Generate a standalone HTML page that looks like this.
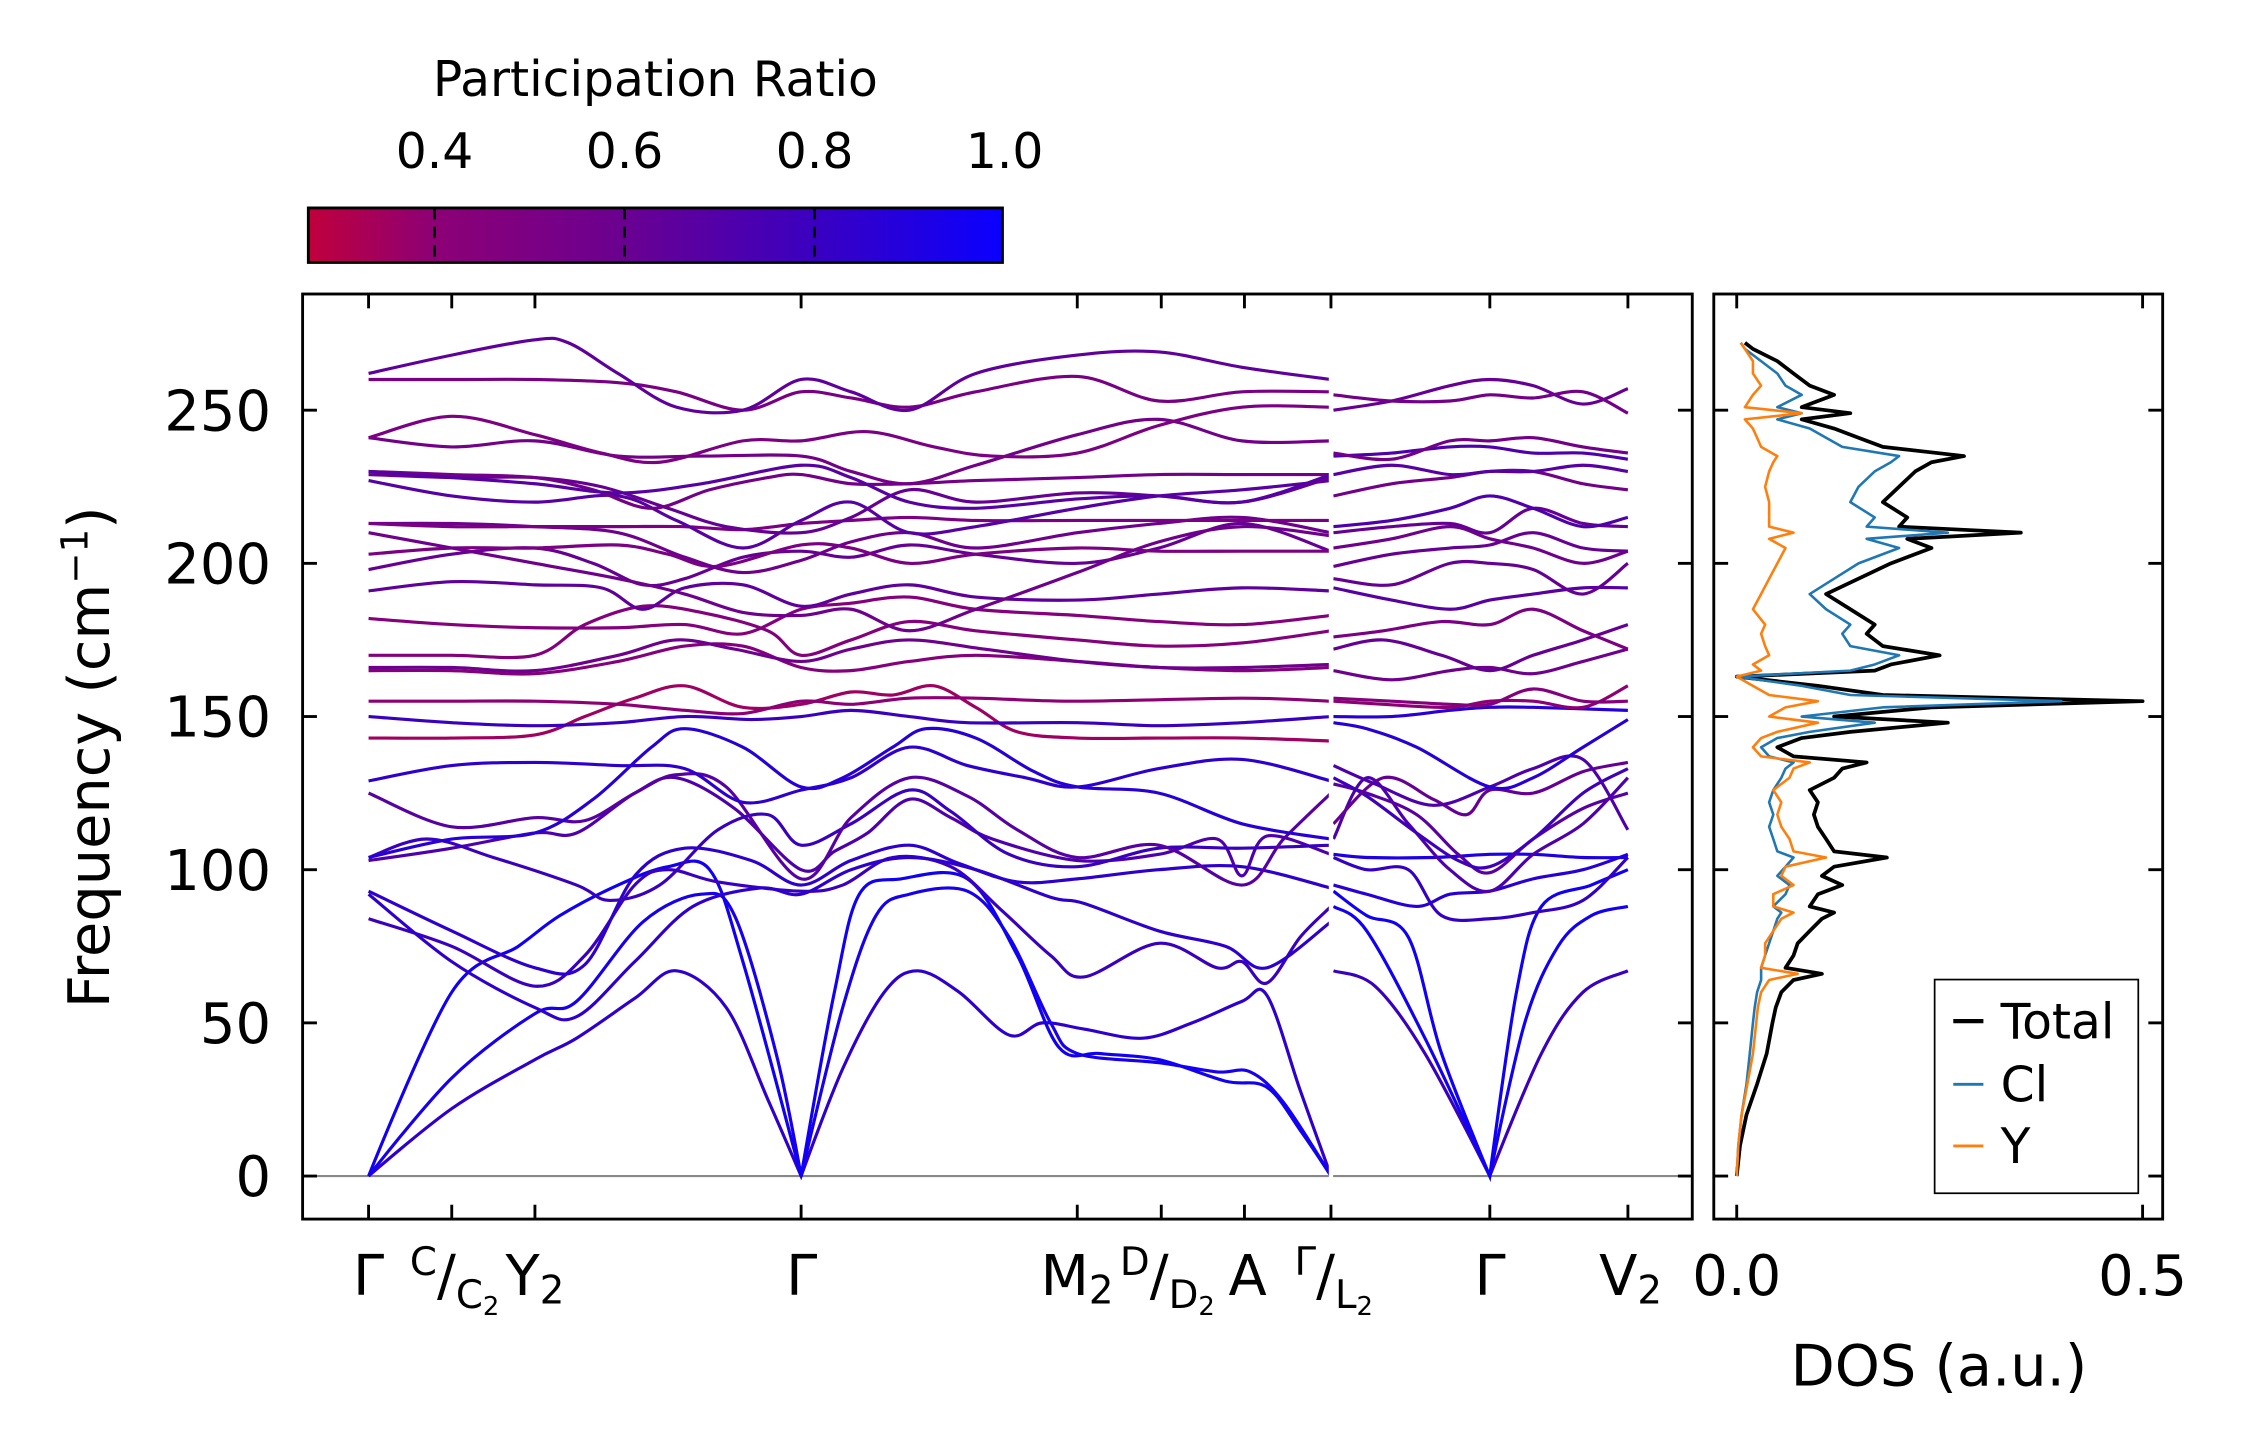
<!DOCTYPE html>
<html><head><meta charset="utf-8"><title>Phonon bands and DOS</title>
<style>
html,body{margin:0;padding:0;background:#fff;}
svg{display:block;}
text{font-family:"DejaVu Sans","Liberation Sans",sans-serif;fill:#000;}
</style></head>
<body>
<svg id="fig" xmlns="http://www.w3.org/2000/svg" width="2248" height="1455" viewBox="0 0 1567.5 1014.5" preserveAspectRatio="none">
  <defs>
    <linearGradient id="cmap" x1="0" x2="1" y1="0" y2="0">
      <stop offset="0" stop-color="#c0003c"/>
      <stop offset="0.18" stop-color="#8d0075"/>
      <stop offset="0.45" stop-color="#6b0090"/>
      <stop offset="0.73" stop-color="#3a00c0"/>
      <stop offset="1" stop-color="#0a00ff"/>
    </linearGradient>
    <clipPath id="mainClip"><rect x="211" y="205" width="969" height="645"/></clipPath>
    <clipPath id="dosClip"><rect x="1195" y="205" width="313" height="645"/></clipPath>
  </defs>
  <g>
    <text x="457" y="67" font-size="34" text-anchor="middle">Participation Ratio</text>
    <rect x="215" y="145" width="484" height="38" fill="url(#cmap)" stroke="#000" stroke-width="2"/>
    <g id="cbTicks"></g>
  </g>
  <g>
    <line x1="211" x2="1180" y1="820" y2="820" stroke="#888" stroke-width="1.5"/>
    <g id="bands" clip-path="url(#mainClip)"></g>
    <rect x="211" y="205" width="969" height="645" fill="none" stroke="#000" stroke-width="2"/>
    <g id="mainTicks"></g>
    <text transform="translate(76,528) rotate(-90)" font-size="40" text-anchor="middle">Frequency (cm<tspan dy="-15" font-size="26">−1</tspan><tspan dy="15">)</tspan></text>
    <g id="kLabels" font-size="39">
      <text x="257" y="903" text-anchor="middle">Γ</text>
      <text x="317" y="903" text-anchor="middle"><tspan font-size="27" dy="-14">C</tspan><tspan dy="14">/</tspan><tspan font-size="27" dy="9">C</tspan><tspan font-size="18" dy="5">2</tspan></text>
      <text x="373" y="903" text-anchor="middle">Y<tspan font-size="27" dy="6">2</tspan></text>
      <text x="559" y="903" text-anchor="middle">Γ</text>
      <text x="751" y="903" text-anchor="middle">M<tspan font-size="27" dy="6">2</tspan></text>
      <text x="814" y="903" text-anchor="middle"><tspan font-size="27" dy="-14">D</tspan><tspan dy="14">/</tspan><tspan font-size="27" dy="9">D</tspan><tspan font-size="18" dy="5">2</tspan></text>
      <text x="870" y="903" text-anchor="middle">A</text>
      <text x="930" y="903" text-anchor="middle"><tspan font-size="27" dy="-14">Γ</tspan><tspan dy="14">/</tspan><tspan font-size="27" dy="9">L</tspan><tspan font-size="18" dy="5">2</tspan></text>
      <text x="1039" y="903" text-anchor="middle">Γ</text>
      <text x="1137" y="903" text-anchor="middle">V<tspan font-size="27" dy="6">2</tspan></text>
    </g>
  </g>
  <g>
    <g id="dos" clip-path="url(#dosClip)"></g>
    <rect x="1195" y="205" width="313" height="645" fill="none" stroke="#000" stroke-width="2"/>
    <g id="dosTicks"></g>
    <text x="1352" y="966" font-size="40" text-anchor="middle">DOS (a.u.)</text>
    <g>
      <rect x="1349" y="683" width="142" height="149" fill="#fff" stroke="#000" stroke-width="1.2"/>
      <line x1="1362" x2="1383" y1="712" y2="712" stroke="#000" stroke-width="3"/>
      <text x="1395" y="724" font-size="34">Total</text>
      <line x1="1362" x2="1383" y1="756" y2="756" stroke="#1f77b4" stroke-width="2"/>
      <text x="1395" y="768" font-size="34">Cl</text>
      <line x1="1362" x2="1383" y1="799" y2="799" stroke="#ff7f0e" stroke-width="2"/>
      <text x="1395" y="811" font-size="34">Y</text>
    </g>
  </g>
</svg>
<script>
const NS="http://www.w3.org/2000/svg";
// ---- data ----
const kNodes=[0,1,2,5.2,8.52,9.53,10.53,11.57,13.48,15.14];
const freqTicks=[0,50,100,150,200,250];
const cbTicks=[0.4,0.6,0.8,1.0];
const dosTicks=[0.0,0.5];
const seg1Bands=[
[[0,0],[1,22],[2,38],[2.5,45],[3.2,58],[3.7,67],[4.3,55],[4.8,25],[5.2,0],[5.7,35],[6.2,60],[6.6,67],[7.1,60],[7.7,46],[8.1,50],[8.6,48],[9.3,45],[9.9,50],[10.5,57],[10.8,59],[11.2,28],[11.57,0]],
[[0,0],[1,32],[2,53],[2.5,57],[3.3,83],[4,92],[4.4,85],[4.9,40],[5.2,0],[5.7,55],[6.1,85],[6.5,92],[7.2,93],[7.7,78],[8.2,50],[8.52,40],[9.5,37],[10.2,34],[10.6,34],[11,24],[11.57,0]],
[[0,0],[1,60],[1.8,75],[2.3,85],[3,95],[3.6,101],[4.1,100],[4.5,70],[5.2,0],[5.6,60],[5.9,92],[6.4,97],[7.2,97],[7.8,72],[8.3,42],[8.8,40],[9.5,38],[10.3,31],[10.8,29],[11.2,15],[11.57,0]],
[[0,84],[1,75],[2,62],[2.6,72],[3.2,95],[3.6,100],[4.2,96],[5.2,93],[5.7,95],[6.3,104],[7,101],[7.6,87],[8.2,72],[8.6,65],[9.5,76],[10.2,68],[10.5,70],[10.8,63],[11.2,78],[11.57,88]],
[[0,92],[1,70],[2,55],[2.5,52],[3.2,70],[3.9,88],[4.7,94],[5.2,92],[5.8,100],[6.5,104],[7.3,100],[8.2,91],[8.6,89],[9.5,80],[10.3,75],[10.8,68],[11.57,83]],
[[0,93],[1,80],[2,68],[2.6,69],[3.2,98],[3.8,107],[4.6,103],[5.2,95],[5.8,103],[6.5,108],[7.1,102],[7.8,96],[8.52,97],[9.5,100],[10.5,101],[11.57,94]],
[[0,103],[1,107],[2,112],[2.5,112],[3.2,125],[3.7,130],[4.4,120],[5.2,100],[5.6,106],[6,112],[6.5,123],[7,117],[7.5,110],[8.52,103],[9.5,105],[10.2,110],[10.5,98],[10.8,111],[11.57,105]],
[[0,104],[0.7,110],[1.5,104],[2.5,95],[2.9,90],[3.5,95],[4.2,113],[4.8,118],[5.2,108],[5.8,115],[6.5,126],[7,119],[7.7,105],[8.52,101],[9.5,107],[10.5,107],[11.57,108]],
[[0,125],[1,114],[2,117],[2.6,116],[3.2,125],[3.7,131],[4.3,127],[5.2,97],[5.8,117],[6.5,130],[7.2,124],[7.8,113],[8.52,104],[9.5,108],[10.5,95],[11,110],[11.57,125]],
[[0,129],[1,134],[2,135],[3,134],[3.8,133],[4.5,122],[5.2,126],[5.8,130],[6.5,140],[7.2,134],[7.9,130],[8.52,127],[9.5,133],[10.5,136],[11.57,129]],
[[0,104],[1,110],[2,112],[2.7,123],[3.4,140],[3.8,146],[4.5,140],[5.2,127],[5.7,130],[6.3,140],[6.7,146],[7.3,143],[8,132],[8.52,127],[9.5,125],[10.5,115],[11.57,110]],
[[0,143],[1,143],[2,144],[2.6,150],[3.2,156],[3.8,160],[4.5,153],[5.2,154],[5.8,158],[6.3,157],[6.8,160],[7.3,153],[7.8,145],[8.52,143],[9.5,143],[10.5,143],[11.57,142]],
[[0,150],[1,148],[2,147],[3,148],[3.8,150],[4.6,149],[5.2,150],[5.8,152],[6.5,150],[7.2,148],[8.52,148],[9.5,147],[10.5,148],[11.57,150]],
[[0,155],[1,155],[2,155],[3,154],[3.8,152],[4.5,151],[5.2,155],[5.8,154],[6.5,156],[7.3,156],[8.52,155],[10.5,156],[11.57,155]],
[[0,165],[1,165],[2,164],[3,168],[3.8,173],[4.5,173],[5.2,166],[5.8,165],[6.5,168],[7.3,170],[8.52,168],[9.5,166],[10.5,165],[11.57,166]],
[[0,166],[1,166],[2,165],[3,170],[3.7,175],[4.4,172],[5.2,168],[5.8,172],[6.5,175],[7.4,172],[8.52,168],[9.5,166],[10.5,166],[11.57,167]],
[[0,170],[1,170],[2,170],[2.6,180],[3.3,186],[4,184],[4.8,178],[5.2,170],[5.8,175],[6.5,181],[7.3,178],[8.52,175],[9.5,173],[10.5,174],[11.57,178]],
[[0,182],[1,180],[2,179],[3,179],[3.8,180],[4.5,177],[5.2,185],[5.8,187],[6.5,189],[7.3,185],[8.52,183],[9.5,181],[10.5,180],[11.57,183]],
[[0,191],[1,194],[2,193],[2.8,192],[3.3,185],[3.8,192],[4.5,193],[5.2,186],[5.8,190],[6.5,193],[7.3,189],[8.52,188],[9.5,190],[10.5,192],[11.57,191]],
[[0,198],[1,203],[2,205],[2.7,200],[3.3,193],[3.8,195],[4.5,202],[5.2,204],[5.8,202],[6.5,206],[7.3,203],[8.52,200],[9.5,205],[10.5,213],[11.57,204]],
[[0,203],[1,205],[2,205],[3,206],[3.6,203],[4.2,199],[5.2,206],[5.8,205],[6.5,200],[7.3,203],[8.52,205],[9.5,204],[10.5,204],[11.57,204]],
[[0,210],[1,205],[2,200],[3,195],[3.8,190],[4.5,184],[5.2,183],[5.8,185],[6.5,178],[7.3,185],[8.52,197],[9.5,207],[10.5,212],[11.57,209]],
[[0,213],[1,213],[2,212],[3,210],[3.8,202],[4.5,197],[5.2,201],[5.8,207],[6.5,210],[7.3,205],[8.52,210],[9.5,213],[10.5,215],[11.57,210]],
[[0,213],[1,212],[2,212],[3,212],[3.8,212],[4.5,211],[5.2,213],[5.8,214],[6.5,215],[7.3,214],[8.52,214],[9.5,214],[10.5,214],[11.57,214]],
[[0,227],[1,222],[2,220],[3,222],[3.7,214],[4.5,205],[5.2,214],[5.8,220],[6.5,210],[7.3,212],[8.52,218],[9.5,222],[10.5,224],[11.57,227]],
[[0,229],[1,228],[2,228],[2.8,225],[3.6,218],[4.3,212],[5.2,210],[5.8,215],[6.5,224],[7.3,220],[8.52,223],[9.5,222],[10.5,220],[11.57,228]],
[[0,230],[1,229],[2,228],[2.7,224],[3.4,218],[4.1,224],[4.8,228],[5.2,229],[5.8,226],[6.5,226],[7.3,227],[8.52,228],[9.5,229],[10.5,229],[11.57,229]],
[[0,230],[1,228],[2,226],[3,223],[4,226],[5.2,232],[5.8,228],[6.5,220],[7.3,218],[8.52,221],[9.5,222],[10.5,220],[11.57,229]],
[[0,241],[1,238],[2,240],[3,235],[4,235],[5.2,235],[5.8,230],[6.5,226],[7.3,232],[8.52,242],[9.5,247],[10.5,240],[11.57,240]],
[[0,241],[1,248],[2,242],[2.8,236],[3.5,233],[4.5,240],[5.2,240],[6,243],[6.8,238],[7.5,235],[8.52,236],[9.5,245],[10.5,251],[11.57,251]],
[[0,260],[1,260],[2,260],[3,259],[3.7,256],[4.5,250],[5.2,256],[5.8,254],[6.5,251],[7.3,256],[8.52,261],[9.5,253],[10.5,256],[11.57,256]],
[[0,262],[1,268],[2,273],[2.4,272],[3,262],[3.7,251],[4.5,250],[5.2,260],[5.8,256],[6.5,250],[7.3,262],[8.52,268],[9.5,269],[10.5,264],[11.57,260]]
];
const seg1Pr=[0.85,0.95,0.97,0.8,0.85,0.85,0.72,0.8,0.68,0.85,0.88,0.35,0.8,0.4,0.45,0.58,0.45,0.45,0.65,0.62,0.5,0.58,0.58,0.5,0.68,0.62,0.55,0.68,0.55,0.5,0.52,0.65];
const seg2Bands=[
[[11.6,67],[12.1,62],[12.7,40],[13.48,0],[14.1,40],[14.6,60],[15.14,67]],
[[11.6,88],[12,80],[12.7,45],[13.48,0],[13.9,50],[14.3,75],[14.7,85],[15.14,88]],
[[11.6,93],[12,85],[12.5,78],[12.9,40],[13.48,0],[13.8,60],[14.1,88],[14.7,95],[15.14,100]],
[[11.6,104],[12,100],[12.5,100],[12.9,85],[13.48,84],[14,86],[14.6,90],[15.14,104]],
[[11.6,95],[12,92],[12.6,88],[13,92],[13.48,93],[14,97],[14.6,100],[15.14,105]],
[[11.6,105],[12,104],[12.8,104],[13.48,105],[14,105],[14.6,104],[15.14,104]],
[[11.6,110],[12,130],[12.5,115],[13,100],[13.48,93],[14,105],[14.6,115],[15.14,130]],
[[11.6,128],[12,125],[12.6,118],[13.1,105],[13.48,99],[14,110],[14.6,120],[15.14,125]],
[[11.6,130],[12,124],[12.6,112],[13.1,103],[13.48,101],[14,110],[14.6,125],[15.14,133]],
[[11.6,115],[12.2,130],[12.8,123],[13.2,118],[13.48,126],[14,125],[14.6,132],[15.14,135]],
[[11.6,134],[12.1,128],[12.8,121],[13.48,127],[14,133],[14.6,136],[15.14,113]],
[[11.6,148],[12,146],[12.6,140],[13.48,127],[14,130],[14.6,140],[15.14,149]],
[[11.6,150],[12.3,150],[13,152],[13.48,153],[14,153],[15.14,152]],
[[11.6,155],[12.2,154],[13,153],[13.48,155],[14,155],[14.6,153],[15.14,160]],
[[11.6,156],[12.3,155],[13,154],[13.48,154],[14,159],[14.6,155],[15.14,155]],
[[11.6,165],[12.3,162],[13,165],[13.48,166],[14,164],[14.6,168],[15.14,172]],
[[11.6,172],[12.2,175],[12.9,170],[13.48,165],[14,170],[14.6,175],[15.14,180]],
[[11.6,176],[12.2,178],[12.9,181],[13.48,180],[14,185],[14.6,178],[15.14,172]],
[[11.6,192],[12.3,188],[13,185],[13.48,188],[14,190],[14.6,192],[15.14,192]],
[[11.6,195],[12.3,193],[13,200],[13.48,200],[14,198],[14.6,190],[15.14,200]],
[[11.6,199],[12.3,203],[13,205],[13.48,206],[14,210],[14.6,205],[15.14,204]],
[[11.6,205],[12.3,208],[13,212],[13.48,208],[14,205],[14.6,200],[15.14,204]],
[[11.6,210],[12.3,212],[13,213],[13.48,210],[14,218],[14.6,213],[15.14,212]],
[[11.6,212],[12.3,214],[13,218],[13.48,222],[14,218],[14.6,212],[15.14,215]],
[[11.6,222],[12.3,226],[13,228],[13.48,230],[14,230],[14.6,226],[15.14,224]],
[[11.6,229],[12.3,232],[13,229],[13.48,230],[14,230],[14.6,232],[15.14,230]],
[[11.6,235],[12.3,236],[13,238],[13.48,238],[14,236],[14.6,236],[15.14,234]],
[[11.6,236],[12.3,234],[13,240],[13.48,240],[14,241],[14.6,238],[15.14,236]],
[[11.6,250],[12.3,253],[13,258],[13.48,260],[14,258],[14.6,252],[15.14,257]],
[[11.6,255],[12.3,253],[13,253],[13.48,255],[14,254],[14.6,256],[15.14,249]]
];
const seg2Pr=[0.8,0.97,0.97,0.82,0.88,0.92,0.72,0.68,0.78,0.62,0.72,0.88,0.88,0.4,0.45,0.58,0.62,0.5,0.68,0.62,0.62,0.58,0.62,0.72,0.55,0.68,0.72,0.55,0.62,0.55];
const dosFreq=[0,10,20,30,40,50,55,60,64,66,68,72,76,80,84,86,88,92,95,98,101,104,106,110,114,118,122,126,130,133,135,137,140,143,145,148,150,153,155,157,160,163,165,167,170,173,177,180,185,190,195,200,205,208,210,212,215,220,225,230,233,235,238,241,244,247,249,251,255,258,262,266,270,272];
const dosTotal=[0,.004,.012,.025,.037,.044,.048,.055,.07,.105,.06,.07,.075,.09,.105,.12,.09,.1,.13,.105,.12,.185,.12,.11,.1,.095,.1,.09,.12,.13,.16,.07,.05,.08,.14,.26,.12,.24,.5,.18,.1,0,.17,.19,.25,.18,.16,.17,.14,.11,.15,.19,.24,.21,.35,.2,.21,.18,.2,.22,.24,.28,.18,.15,.12,.08,.14,.08,.12,.09,.07,.05,.02,.01];
const dosCl=[0,.002,.006,.012,.016,.02,.022,.025,.03,.03,.03,.035,.04,.045,.05,.055,.045,.06,.065,.05,.06,.07,.05,.045,.04,.045,.04,.045,.055,.06,.07,.04,.03,.05,.09,.17,.08,.18,.4,.14,.08,0,.14,.17,.2,.14,.13,.14,.11,.09,.12,.15,.2,.16,.26,.16,.17,.14,.15,.17,.19,.2,.13,.11,.09,.05,.08,.05,.08,.06,.05,.03,.01,.005];
const dosY=[0,.002,.006,.013,.02,.024,.026,.03,.04,.075,.03,.035,.035,.045,.055,.07,.045,.045,.07,.055,.06,.11,.07,.065,.055,.05,.055,.045,.065,.07,.09,.03,.02,.03,.05,.1,.04,.06,.1,.04,.02,0,.03,.02,.04,.035,.03,.035,.02,.03,.04,.05,.06,.04,.07,.04,.04,.04,.035,.04,.045,.05,.03,.025,.02,.01,.08,.01,.02,.03,.02,.02,.01,.005];
// ---- scales ----
const xk=k=>257+k*58;
const yf=f=>820-f*2.136;
const xd=d=>1211+d*566;
const xcb=v=>303+(v-0.4)*662.5;
function prColor(p){
  const stops=[[0.267,[192,0,60]],[0.4,[141,0,117]],[0.6,[107,0,144]],[0.8,[58,0,192]],[1.0,[10,0,255]]];
  p=Math.max(0.267,Math.min(1,p));
  for(let i=0;i<stops.length-1;i++){const a=stops[i],b=stops[i+1];
    if(p<=b[0]){const t=(p-a[0])/(b[0]-a[0]);return 'rgb('+a[1].map((c,j)=>Math.round(c+(b[1][j]-c)*t)).join(',')+')';}}
  return 'rgb(10,0,255)';
}
function smoothPath(pts){
  const P=pts.map(p=>[xk(p[0]),yf(p[1])]);
  let d='M'+P[0][0].toFixed(1)+','+P[0][1].toFixed(1);
  for(let i=0;i<P.length-1;i++){
    const p0=P[Math.max(0,i-1)],p1=P[i],p2=P[i+1],p3=P[Math.min(P.length-1,i+2)];
    const c1=[p1[0]+(p2[0]-p0[0])/6,p1[1]+(p2[1]-p0[1])/6];
    const c2=[p2[0]-(p3[0]-p1[0])/6,p2[1]-(p3[1]-p1[1])/6];
    if(pts[i][1]===0){c1[0]=p1[0];c1[1]=p1[1];}
    if(pts[i+1][1]===0){c2[0]=p2[0];c2[1]=p2[1];}
    d+='C'+c1[0].toFixed(1)+','+c1[1].toFixed(1)+' '+c2[0].toFixed(1)+','+c2[1].toFixed(1)+' '+p2[0].toFixed(1)+','+p2[1].toFixed(1);
  }
  return d;
}
function mk(tag,attrs,parent){const e=document.createElementNS(NS,tag);for(const k in attrs)e.setAttribute(k,attrs[k]);parent.appendChild(e);return e;}
// ---- bands ----
const gB=document.getElementById('bands');
seg1Bands.forEach((b,i)=>{
  const p=mk('path',{d:smoothPath(b),fill:'none',stroke:prColor(seg1Pr[i]),'stroke-width':2.2},gB);
  
  
});
seg2Bands.forEach((b,i)=>{
  const p=mk('path',{d:smoothPath(b),fill:'none',stroke:prColor(seg2Pr[i]),'stroke-width':2.2},gB);
  
  
});
// ---- main ticks ----
const gT=document.getElementById('mainTicks');
kNodes.forEach((k,i)=>{
  const x=xk(k);
  if(i===7){
    const g=mk('line',{x1:x,x2:x,y1:205,y2:850,stroke:'#fff','stroke-width':3},gB);
    
    
  }
  const t1=mk('line',{x1:x,x2:x,y1:850,y2:840,stroke:'#000','stroke-width':2},gT);
  
  
  const t2=mk('line',{x1:x,x2:x,y1:205,y2:215,stroke:'#000','stroke-width':2},gT);
  
  
});
freqTicks.forEach(f=>{
  const y=yf(f);
  const a=mk('line',{x1:211,x2:221,y1:y,y2:y,stroke:'#000','stroke-width':2},gT);
  
  
  const b=mk('line',{x1:1170,x2:1180,y1:y,y2:y,stroke:'#000','stroke-width':2},gT);
  
  
  const t=mk('text',{x:189,y:y+14,'font-size':39,'text-anchor':'end'},gT);
  
  
  t.textContent=String(f);
});
// ---- colorbar ticks ----
const gC=document.getElementById('cbTicks');
cbTicks.forEach(v=>{
  const x=xcb(v);
  const t=mk('text',{x:x,y:117,'font-size':34,'text-anchor':'middle'},gC);
  
  
  t.textContent=v.toFixed(1);
  if(v<1){
    const l=mk('line',{x1:x,x2:x,y1:145,y2:183,stroke:'#000','stroke-width':2,'stroke-dasharray':'8,5'},gC);
    
    
  }
});
// ---- DOS ----
const gD=document.getElementById('dos');
function dosLine(vals,color,w,name){
  const pts=vals.map((v,i)=>xd(v).toFixed(1)+','+yf(dosFreq[i]).toFixed(1)).join(' ');
  const p=mk('polyline',{points:pts,fill:'none',stroke:color,'stroke-width':w,'stroke-linejoin':'round'},gD);
  
  
}
dosLine(dosTotal,'#000',2.6,'dos-total-line');
dosLine(dosCl,'#1f77b4',1.8,'dos-cl-line');
dosLine(dosY,'#ff7f0e',1.8,'dos-y-line');
const gDT=document.getElementById('dosTicks');
freqTicks.forEach(f=>{
  const y=yf(f);
  const a=mk('line',{x1:1195,x2:1205,y1:y,y2:y,stroke:'#000','stroke-width':2},gDT);
  
  
  const b=mk('line',{x1:1498,x2:1508,y1:y,y2:y,stroke:'#000','stroke-width':2},gDT);
  
  
});
dosTicks.forEach(d=>{
  const x=xd(d);
  const a=mk('line',{x1:x,x2:x,y1:850,y2:840,stroke:'#000','stroke-width':2},gDT);
  
  
  const b=mk('line',{x1:x,x2:x,y1:205,y2:215,stroke:'#000','stroke-width':2},gDT);
  
  
  const t=mk('text',{x:x,y:903,'font-size':39,'text-anchor':'middle'},gDT);
  
  
  t.textContent=d.toFixed(1);
});
</script>
</body></html>
